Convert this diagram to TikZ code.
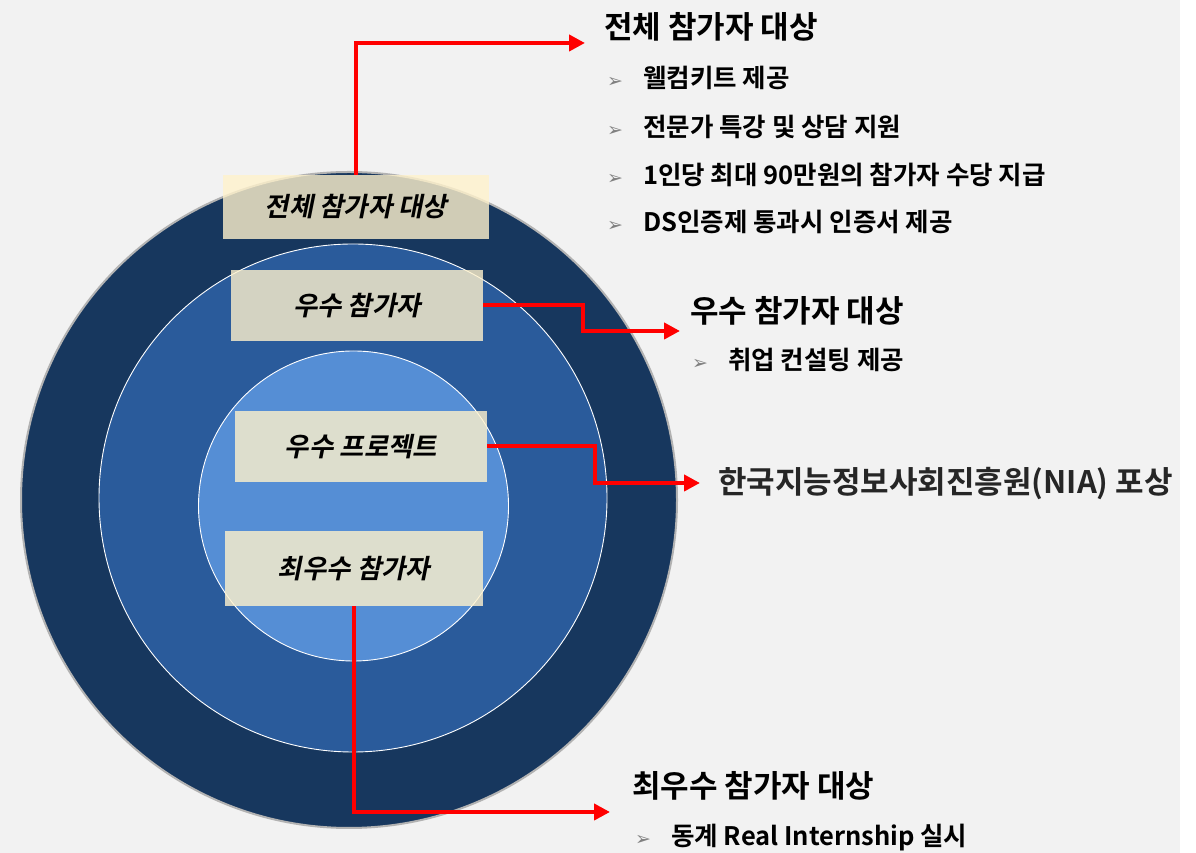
\documentclass[tikz,border=0pt]{standalone}
\usepackage{fontspec}
\setmainfont{Noto Sans CJK KR}[BoldFont={* Bold}]
\newfontfamily\slantfont{Noto Sans CJK KR}[BoldFont={* Bold},FakeSlant=0.2]
\newfontfamily\symbfont{DejaVu Sans}
\usepackage{xcolor}
\usetikzlibrary{arrows.meta,positioning}
\definecolor{backgray}{HTML}{F2F2F2}
\definecolor{outerblue}{HTML}{17375E}
\definecolor{midblue}{HTML}{2A5B9B}
\definecolor{innerblue}{HTML}{558ED5}
\definecolor{paper}{HTML}{FFF2CC}
\newcommand{\bul}{\makebox[36pt][l]{\textcolor{gray}{\symbfont\mdseries\fontsize{19}{19}\selectfont ➢}}}
\tikzset{%
	ring/.style     = {draw=white, line width=0.9pt},
	tagbox/.style   = {fill=paper, fill opacity=0.8, text opacity=1, inner sep=0pt, font=\slantfont\bfseries\fontsize{26.5}{30}\selectfont},
	redarrow/.style = {draw=red, line width=4pt, -{Triangle[length=16pt,width=16pt]}},
	headtext/.style = {inner sep=0pt, anchor=west, font=\bfseries\fontsize{31}{34}\selectfont},
	itemtext/.style = {inner sep=0pt, anchor=west, font=\bfseries\fontsize{25.5}{30}\selectfont},
}

\begin{document}
\begin{tikzpicture}[x=1pt,y=1pt]
	\useasboundingbox (0,0) rectangle (1196,853);
	\fill[backgray] (0,0) rectangle (1180,853);
	
	% circles
	\draw[gray!60, line width=2pt, fill=outerblue] (349,353) circle[radius=328];
	\draw[ring, fill=midblue] (353,355) circle[radius=254];
	\draw[ring, fill=innerblue] (353.5,347) circle[radius=155];
	
	% boxes
	\node [tagbox, minimum width=266, minimum height=64] (all) at (356,646) {전체 참가자 대상};
	\node [tagbox, minimum width=252, minimum height=71] (good) at (357,547.5) {우수 참가자};
	\node [tagbox, minimum width=252, minimum height=71] (proj) at (361,406.5) {우수 프로젝트};
	\node [tagbox, minimum width=258, minimum height=75] (best) at (354,284.5) {최우수 참가자};
	
	% end points
	\coordinate (tipall) at (585,810);
	\coordinate (tipgood) at (680,522);
	\coordinate (tipproj) at (700,370);
	\coordinate (tipbest) at (610,41);
	
	\draw[redarrow] (all.north) |- (tipall);
	\draw[redarrow] (good.east) -- ++(100,0) |- (tipgood);
	\draw[redarrow] (proj.east) -- ++(108,0) |- (tipproj);
	\draw[redarrow] (best.south) |- (tipbest);
	
	% texts
	\node [headtext] (headall) at (604,826) {전체 참가자 대상};
	\node [itemtext] (item1) at (607,775) {\bul 웰컴키트 제공};
	\node [itemtext] (item2) at (607,726.5) {\bul 전문가 특강 및 상담 지원};
	\node [itemtext] (item3) at (607,678.5) {\bul 1인당 최대 90만원의 참가자 수당 지급};
	\node [itemtext] (item4) at (607,631) {\bul DS인증제 통과시 인증서 제공};
	
	\node [headtext] (headgood) at (690,542) {우수 참가자 대상};
	\node [itemtext] (item5) at (692,493) {\bul 취업 컨설팅 제공};
	
	\node [headtext, text=black!85] (headproj) at (718,369) {한국지능정보사회진흥원(NIA) 포상};
	
	\node [headtext] (headbest) at (632,67) {최우수 참가자 대상};
	\node [itemtext] (item6) at (635,15) {\bul 동계 Real Internship 실시};
\end{tikzpicture}
\end{document}
